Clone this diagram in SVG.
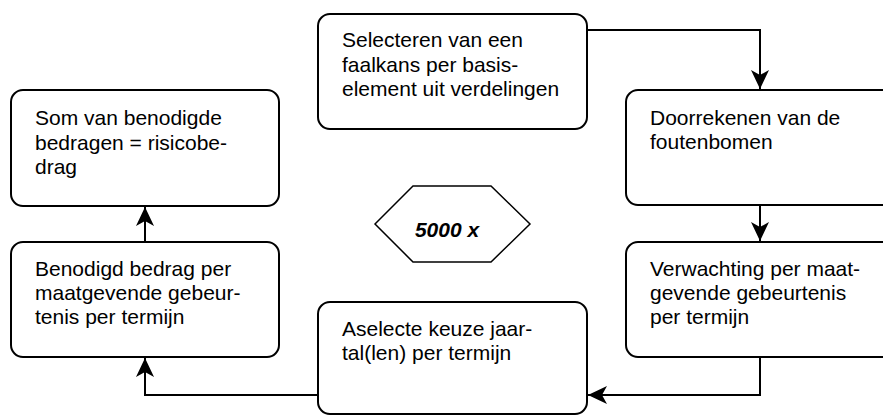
<svg xmlns="http://www.w3.org/2000/svg" width="883" height="415" viewBox="0 0 883 415">
<style>
.box{fill:#fff;stroke:#000;stroke-width:2}
.t{font-family:"Liberation Sans",Arial,sans-serif;font-size:21px;fill:#000}
.c{fill:none;stroke:#000;stroke-width:2}
.h{font-family:"Liberation Sans",Arial,sans-serif;font-size:21px;font-weight:bold;font-style:italic;fill:#000}
</style>
<defs>
<marker id="arr" markerUnits="userSpaceOnUse" markerWidth="22" markerHeight="22" refX="20" refY="10" orient="auto">
<path d="M1,1 L20,10 L1,19 L6,10 Z" fill="#000"/>
</marker>
</defs>
<rect width="883" height="415" fill="#fff"/>
<g id="connectors">
<path class="c" d="M587,30 H760 V89" marker-end="url(#arr)"/>
<path class="c" d="M760,205 V241" marker-end="url(#arr)"/>
<path class="c" d="M760,357 V395 H588" marker-end="url(#arr)"/>
<path class="c" d="M317,395 H145 V358" marker-end="url(#arr)"/>
<path class="c" d="M145,242 V207" marker-end="url(#arr)"/>
</g>
<g id="n1">
<rect class="box" x="318" y="14" width="269" height="115" rx="12"/>
<text class="t" x="342" y="47">Selecteren van een</text>
<text class="t" x="342" y="72">faalkans per basis-</text>
<text class="t" x="342" y="96">element uit verdelingen</text>
</g>
<g id="n2">
<rect class="box" x="626" y="90" width="280" height="115" rx="12"/>
<text class="t" x="650" y="125">Doorrekenen van de</text>
<text class="t" x="650" y="149">foutenbomen</text>
</g>
<g id="n3">
<rect class="box" x="626" y="242" width="280" height="115" rx="12"/>
<text class="t" x="650" y="276">Verwachting per maat-</text>
<text class="t" x="650" y="300">gevende gebeurtenis</text>
<text class="t" x="650" y="324">per termijn</text>
</g>
<g id="n4">
<rect class="box" x="318" y="302" width="269" height="112" rx="12"/>
<text class="t" x="342" y="336">Aselecte keuze jaar-</text>
<text class="t" x="342" y="360">tal(len) per termijn</text>
</g>
<g id="n5">
<rect class="box" x="11" y="242" width="268" height="115" rx="12"/>
<text class="t" x="35" y="276">Benodigd bedrag per</text>
<text class="t" x="35" y="300">maatgevende gebeur-</text>
<text class="t" x="35" y="324">tenis per termijn</text>
</g>
<g id="n6">
<rect class="box" x="11" y="90" width="268" height="116" rx="12"/>
<text class="t" x="35" y="125">Som van benodigde</text>
<text class="t" x="35" y="150">bedragen = risicobe-</text>
<text class="t" x="35" y="174">drag</text>
</g>
<g id="n7">
<polygon points="375,224 413,186 491,186 530,224 491,262 413,262" fill="#fff" stroke="#000" stroke-width="1.5"/>
<text class="h" x="447" y="237" text-anchor="middle">5000 x</text>
</g>
</svg>
